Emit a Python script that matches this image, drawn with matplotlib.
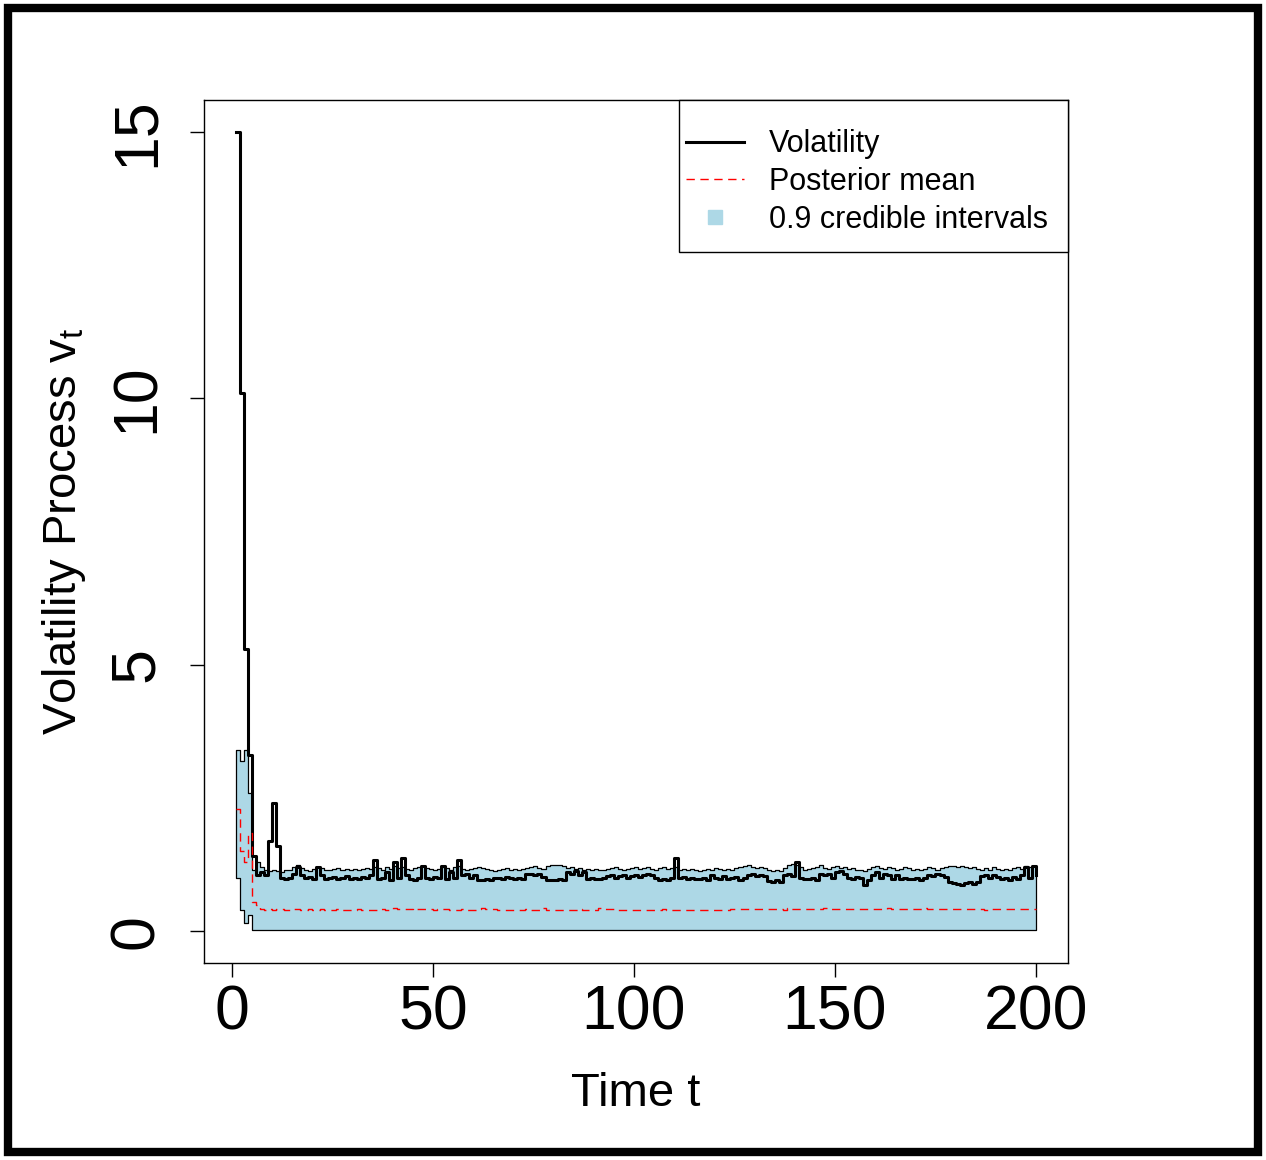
import numpy as np
import matplotlib
matplotlib.use("Agg")
import matplotlib.pyplot as plt
from matplotlib.lines import Line2D
from matplotlib.patches import Rectangle

plt.rcParams['font.family'] = ['Liberation Sans', 'DejaVu Sans']
plt.rcParams['mathtext.default'] = 'regular'

# time index
t = np.arange(1, 201)

# simulated volatility path
volatility = [
    15.0, 10.1, 5.3, 3.3, 1.4, 1.05, 1.1, 1.05, 1.7, 2.4,
    1.6, 1.0, 0.98, 1.0, 1.08, 1.2, 1.05, 1.0, 1.02, 0.98,
    1.2, 1.05, 0.97, 1.0, 1.02, 0.98, 1.0, 1.03, 0.97, 1.0,
    0.98, 1.02, 1.0, 1.05, 1.34, 0.98, 1.0, 1.1, 0.95, 1.3,
    1.0, 1.38, 1.05, 0.98, 0.95, 1.0, 1.22, 1.0, 0.98, 1.02,
    1.0, 1.22, 0.98, 1.1, 1.0, 1.34, 1.05, 1.08, 1.0, 1.05,
    0.96, 0.95, 0.97, 0.96, 1.0, 1.0, 0.98, 1.02, 1.0, 0.98,
    1.0, 0.97, 1.07, 1.08, 1.05, 1.07, 1.02, 0.96, 0.95, 0.96,
    0.97, 0.95, 1.1, 1.08, 1.12, 1.05, 1.1, 0.98, 1.0, 0.97,
    0.98, 1.0, 1.03, 1.05, 1.0, 1.03, 1.06, 1.0, 1.03, 1.05,
    1.02, 1.05, 1.08, 1.05, 1.0, 0.96, 0.97, 0.95, 1.0, 1.38,
    1.0, 1.02, 0.98, 1.0, 0.97, 0.98, 1.0, 0.96, 1.05, 1.0,
    0.97, 1.03, 0.98, 1.0, 1.02, 0.96, 1.0, 1.05, 1.07, 1.04,
    1.06, 1.03, 0.94, 0.92, 0.95, 0.93, 1.05, 1.07, 1.04, 1.3,
    1.0, 0.97, 0.98, 1.0, 0.96, 1.07, 1.05, 1.08, 1.0, 1.1,
    1.12, 1.08, 1.0, 0.98, 1.02, 1.0, 0.87, 0.95, 1.05, 1.1,
    1.0, 1.08, 1.05, 0.98, 1.06, 0.98, 1.0, 0.97, 0.98, 1.0,
    0.96, 1.0, 1.05, 1.03, 1.07, 1.05, 1.02, 0.92, 0.9, 0.88,
    0.87, 0.9, 0.92, 0.88, 0.93, 1.03, 1.05, 1.0, 1.06, 1.02,
    0.98, 1.0, 0.96, 1.02, 0.98, 1.05, 1.2, 1.0, 1.22, 1.05,
]

# upper bound of 0.9 credible interval
upper = [
    3.4, 3.2, 3.4, 2.6, 1.15, 1.3, 1.2, 1.15, 1.12, 1.15,
    1.12, 1.1, 1.14, 1.15, 1.2, 1.24, 1.18, 1.15, 1.12, 1.16,
    1.2, 1.18, 1.15, 1.14, 1.16, 1.18, 1.15, 1.17, 1.14, 1.16,
    1.15, 1.17, 1.18, 1.16, 1.2, 1.18, 1.15, 1.2, 1.17, 1.22,
    1.18, 1.2, 1.17, 1.15, 1.18, 1.2, 1.22, 1.18, 1.16, 1.15,
    1.17, 1.2, 1.18, 1.15, 1.2, 1.22, 1.16, 1.14, 1.16, 1.18,
    1.2, 1.18, 1.16, 1.14, 1.12, 1.15, 1.16, 1.18, 1.15, 1.17,
    1.14, 1.16, 1.18, 1.2, 1.22, 1.18, 1.16, 1.22, 1.24, 1.24,
    1.24, 1.22, 1.18, 1.2, 1.16, 1.18, 1.15, 1.16, 1.14, 1.16,
    1.15, 1.14, 1.16, 1.18, 1.2, 1.17, 1.15, 1.16, 1.18, 1.2,
    1.16, 1.18, 1.2, 1.17, 1.15, 1.18, 1.2, 1.16, 1.18, 1.2,
    1.15, 1.16, 1.14, 1.17, 1.15, 1.13, 1.15, 1.17, 1.15, 1.18,
    1.16, 1.14, 1.17, 1.15, 1.18, 1.2, 1.22, 1.24, 1.2, 1.18,
    1.2, 1.18, 1.15, 1.13, 1.15, 1.12, 1.18, 1.24, 1.25, 1.24,
    1.2, 1.15, 1.16, 1.18, 1.2, 1.24, 1.18, 1.16, 1.2, 1.22,
    1.18, 1.2, 1.16, 1.18, 1.15, 1.14, 1.12, 1.17, 1.2, 1.22,
    1.18, 1.16, 1.2, 1.18, 1.14, 1.16, 1.2, 1.18, 1.15, 1.17,
    1.14, 1.16, 1.2, 1.18, 1.15, 1.18, 1.2, 1.22, 1.22, 1.2,
    1.22, 1.2, 1.18, 1.2, 1.16, 1.15, 1.18, 1.15, 1.2, 1.17,
    1.15, 1.17, 1.15, 1.18, 1.2, 1.17, 1.22, 1.2, 1.22, 1.2,
]

# lower bound of 0.9 credible interval
lower = [1.0, 0.4, 0.15, 0.3] + [0.02] * 196

# posterior mean
post_mean = [
    2.3, 1.5, 1.3, 1.85, 0.55, 0.48, 0.42, 0.4, 0.41, 0.4,
    0.42, 0.41, 0.4, 0.4, 0.41, 0.42, 0.4, 0.4, 0.41, 0.4,
    0.4, 0.41, 0.4, 0.4, 0.4, 0.41, 0.4, 0.4, 0.4, 0.4,
    0.41, 0.4, 0.4, 0.4, 0.4, 0.4, 0.41, 0.4, 0.4, 0.44,
    0.42, 0.41, 0.42, 0.41, 0.44, 0.42, 0.41, 0.42, 0.41, 0.4,
    0.41, 0.42, 0.41, 0.4, 0.4, 0.4, 0.41, 0.4, 0.4, 0.4,
    0.42, 0.44, 0.41, 0.42, 0.42, 0.4, 0.4, 0.4, 0.4, 0.4,
    0.4, 0.4, 0.41, 0.4, 0.4, 0.4, 0.44, 0.4, 0.4, 0.4,
    0.4, 0.4, 0.4, 0.4, 0.4, 0.41, 0.4, 0.4, 0.4, 0.4,
    0.43, 0.42, 0.42, 0.42, 0.41, 0.4, 0.4, 0.4, 0.4, 0.4,
    0.4, 0.4, 0.4, 0.4, 0.4, 0.4, 0.41, 0.4, 0.4, 0.4,
    0.4, 0.4, 0.4, 0.4, 0.4, 0.4, 0.4, 0.4, 0.4, 0.4,
    0.4, 0.4, 0.4, 0.42, 0.42, 0.42, 0.41, 0.41, 0.41, 0.42,
    0.42, 0.42, 0.42, 0.41, 0.41, 0.41, 0.4, 0.44, 0.41, 0.41,
    0.41, 0.41, 0.41, 0.41, 0.41, 0.41, 0.44, 0.41, 0.41, 0.41,
    0.41, 0.41, 0.41, 0.41, 0.41, 0.41, 0.41, 0.41, 0.41, 0.41,
    0.41, 0.41, 0.44, 0.41, 0.41, 0.41, 0.41, 0.41, 0.41, 0.41,
    0.41, 0.44, 0.42, 0.42, 0.42, 0.42, 0.42, 0.42, 0.42, 0.42,
    0.41, 0.41, 0.42, 0.42, 0.41, 0.41, 0.4, 0.41, 0.41, 0.41,
    0.42, 0.42, 0.41, 0.42, 0.42, 0.42, 0.42, 0.42, 0.42, 0.42,
]

fig = plt.figure(figsize=(12.66, 11.6), dpi=100)
ax = fig.add_axes([0.1611, 0.1698, 0.6825, 0.744])

ax.fill_between(t, lower, upper, step='post', facecolor='lightblue',
                edgecolor='black', linewidth=0.9)
ax.plot(t, volatility, color='black', linewidth=2.2, drawstyle='steps-post')
ax.plot(t, post_mean, color='red', linewidth=1.0, linestyle=(0, (6, 4)),
        drawstyle='steps-post')

ax.set_xlim(-6.96, 207.96)
ax.set_ylim(-0.6, 15.6)
ax.set_xticks([0, 50, 100, 150, 200])
ax.set_yticks([0, 5, 10, 15])
ax.tick_params(axis='both', labelsize=45, length=10, width=1)
ax.tick_params(axis='x', pad=5)
ax.tick_params(axis='y', pad=17)
for lab in ax.get_yticklabels():
    lab.set_rotation(90)
    lab.set_va('center')

for s in ax.spines.values():
    s.set_linewidth(1.0)

ax.set_xlabel("Time t", fontsize=34, labelpad=21)
ax.set_ylabel("Volatility Process $v_t$", fontsize=34, labelpad=14)

# legend box drawn separately so its padding can match the original
ax.add_patch(Rectangle((0.5498, 0.8239), 0.4502, 0.1761, transform=ax.transAxes,
                       facecolor='white', edgecolor='black', linewidth=1.0,
                       zorder=4, clip_on=False))
handles = [
    Line2D([], [], color='black', linewidth=2.2),
    Line2D([], [], color='red', linewidth=1.0, linestyle=(0, (6, 4))),
    Line2D([], [], color='lightblue', marker='s', markersize=10, linestyle='none'),
]
labels = ["Volatility", "Posterior mean", "0.9 credible intervals"]
leg = ax.legend(handles, labels, loc='upper left', bbox_to_anchor=(0.558, 0.966),
                fontsize=22, borderaxespad=0, borderpad=0, frameon=False,
                handlelength=1.9, handletextpad=0.8, labelspacing=0.25)
leg.set_zorder(5)

# outer frame around the whole picture
fig.patches.append(Rectangle((0.0063, 0.0069), 0.9874, 0.9862,
                             transform=fig.transFigure, fill=False,
                             edgecolor='black', linewidth=6))

fig.savefig("out.png", dpi=100)
